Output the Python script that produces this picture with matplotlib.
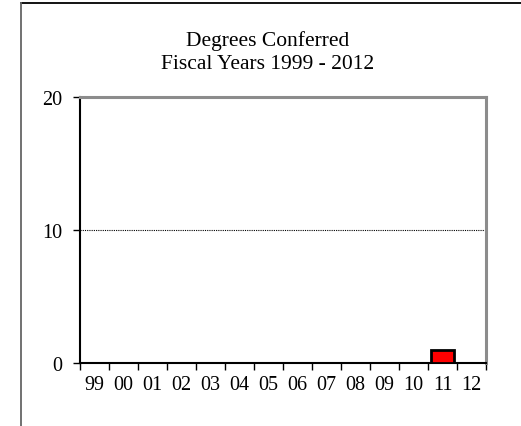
import numpy as np
import matplotlib.pyplot as plt
from matplotlib.lines import Line2D

# data
years = ['99', '00', '01', '02', '03', '04', '05', '06', '07', '08', '09', '10', '11', '12']
degrees = [0, 0, 0, 0, 0, 0, 0, 0, 0, 0, 0, 0, 1, 0]

plt.rcParams['font.family'] = ['Liberation Serif', 'DejaVu Serif']

fig = plt.figure(figsize=(5.21, 4.27), dpi=100)
ax = fig.add_axes([80/521, 63/427, 406/521, 266/427])

x = np.arange(len(years))
ax.bar(x, degrees, width=0.8, color='#ff0000', edgecolor='black', linewidth=2, zorder=3)

ax.set_xlim(-0.5, len(years) - 0.5)
ax.set_ylim(0, 20)
ax.set_yticks([0, 10, 20])
ax.axhline(10, color='black', linestyle=(0, (1, 1)), linewidth=0.8, zorder=1)

# labels centred on categories, tick marks between them
ax.set_xticks(x)
ax.set_xticklabels(years)
ax.set_xticks(np.arange(len(years) + 1) - 0.5, minor=True)
ax.tick_params(axis='x', which='major', length=0, pad=9, labelsize=14.5)
ax.tick_params(axis='x', which='minor', length=5, width=1, color='black', direction='out')
ax.tick_params(axis='y', length=5, width=1, direction='out', pad=8, labelsize=14.5)

for side in ['top', 'right']:
    ax.spines[side].set_color('#8c8c8c')
    ax.spines[side].set_linewidth(2.2)
for side in ['left', 'bottom']:
    ax.spines[side].set_color('black')
    ax.spines[side].set_linewidth(1.5)

fig.text(268/521, 1 - 41/427, 'Degrees Conferred', ha='center', va='center', fontsize=15.5)
fig.text(268/521, 1 - 65/427, 'Fiscal Years 1999 - 2012', ha='center', va='center', fontsize=15.5)

# outer frame around the chart
fig.add_artist(Line2D([21/521, 1], [1 - 4/427, 1 - 4/427], color='black', linewidth=1.3))
fig.add_artist(Line2D([21/521, 21/521], [0, 1 - 4/427], color='#666666', linewidth=1.3))

fig.savefig('out.png', dpi=100)
